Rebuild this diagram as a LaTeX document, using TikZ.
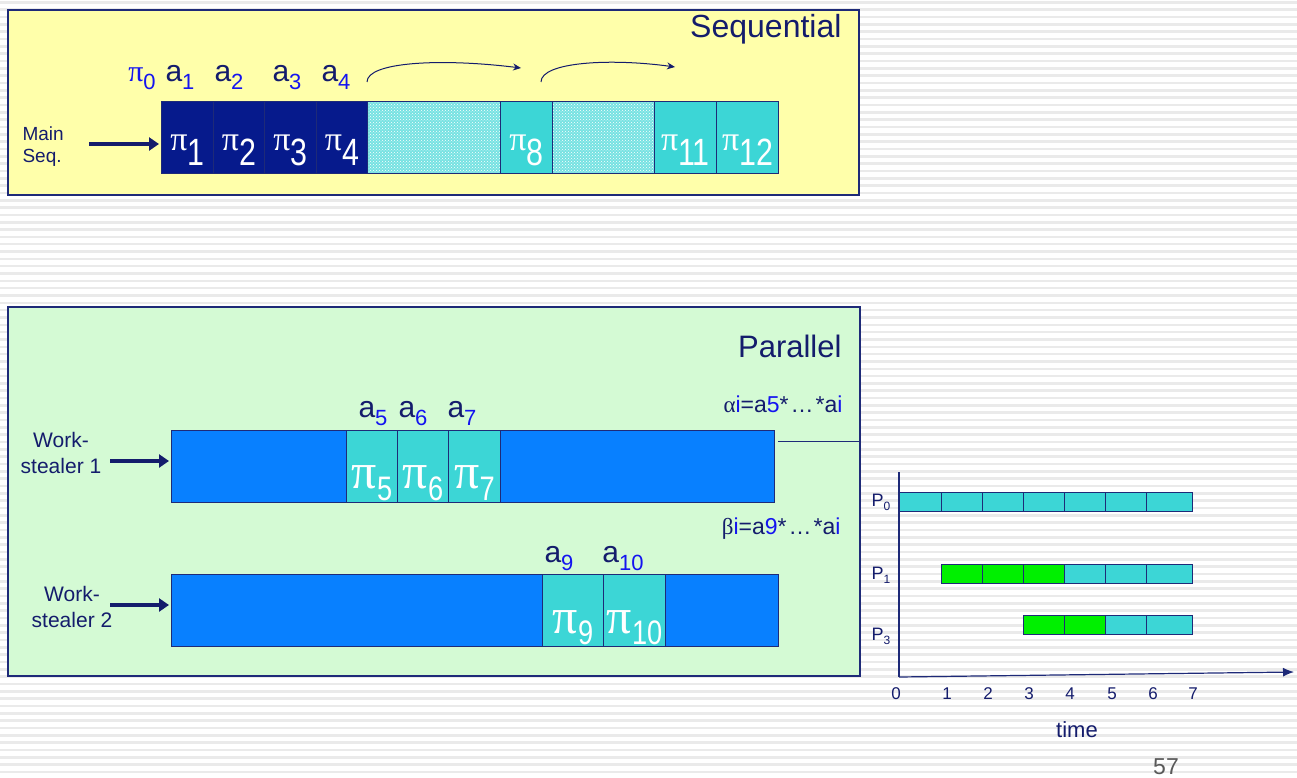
\documentclass[tikz,border=0pt]{standalone}
\usepackage{fontspec}
\setmainfont{Liberation Sans}
\newfontfamily\grk{Liberation Serif}
\usepackage{tikz}
\usetikzlibrary{arrows.meta,patterns}
\definecolor{SlideNavy}{HTML}{141C6C}
\definecolor{SlideLine}{HTML}{1E2A78}
\definecolor{SubBlue}{HTML}{1414F0}
\definecolor{SeqDark}{HTML}{061A8C}
\definecolor{CellCyan}{HTML}{3CD6D6}
\definecolor{BarBlue}{HTML}{0880FF}
\definecolor{PanelYellow}{HTML}{FFFFAA}
\definecolor{PanelGreen}{HTML}{D4FAD4}
\definecolor{GanttGreen}{HTML}{00F000}
\definecolor{Stripe}{HTML}{EAEAEA}
\definecolor{PageGray}{HTML}{595959}

\newcommand\fsz[1]{\fontsize{#1}{#1}\selectfont}
\newcommand\cellpi[4]{{\fsz{#1}\grk π}\raisebox{-#3pt}{\scalebox{0.8}[1]{\fsz{#2}#4}}}
\newcommand\alab[1]{{\fsz{30}a}\raisebox{-8pt}{\fsz{22}\color{SubBlue}#1}}

\begin{document}
\begin{tikzpicture}[x=1pt,y=-1pt,>=Latex,
  cell/.style={draw=SlideLine,line width=1pt,anchor=north west,inner sep=0pt,minimum height=72},
  hatch/.style={cell,preaction={fill=CellCyan!70},pattern=crosshatch dots,pattern color=white},
  pitext/.style={anchor=base,text=white,inner sep=0pt},
  toplab/.style={anchor=base,text=SlideNavy,inner sep=0pt},
  bigarrow/.style={SlideNavy,line width=4pt,-{Triangle[length=10pt,width=13pt]},shorten >=2pt},
  gcell/.style={draw=SlideLine,line width=1pt,anchor=north west,inner sep=0pt,minimum height=19},
  tick/.style={anchor=base,text=SlideNavy,font=\fsz{17}}]
  \useasboundingbox (0,0) rectangle (1297,778);
  % Striped slide background.
  \fill[white] (0,0) rectangle (1297,778);
  \foreach \y in {1,8.33,...,778}
    \fill[Stripe] (0,\y) rectangle (1297,\y+2.6);

  % Sequential panel.
  \draw[fill=PanelYellow,draw=SlideLine,line width=1.2pt] (8,10) rectangle (859,195);
  \node[anchor=base east,text=SlideNavy,font=\fsz{32}] (seqtitle) at (845,38) {Sequential};
  \node[anchor=west,align=left,text=SlideNavy,font=\fontsize{19}{22}\selectfont] (mainlbl) at (19,147) {Main\\Seq.};
  \foreach \n/\x/\w in {1/161/52,2/213/51,3/264/52,4/316/51}
    \node[cell,fill=SeqDark,minimum width=\w] (s\n) at (\x,101) {};
  \node[hatch,minimum width=133] (h1) at (367,101) {};
  \node[cell,fill=CellCyan,minimum width=52] (s8) at (500,101) {};
  \node[hatch,minimum width=102] (h2) at (552,101) {};
  \node[cell,fill=CellCyan,minimum width=62] (s11) at (654,101) {};
  \node[cell,fill=CellCyan,minimum width=62] (s12) at (716,101) {};
  \foreach \n in {1,2,3,4,8,11,12}
    \node[pitext] (t\n) at ([yshift=23pt]s\n.south) {\cellpi{34}{38}{15}{\n}};
  \node[toplab,text=SubBlue] (a0) at (142,82) {{\fsz{30}\grk π}\raisebox{-8pt}{\fsz{22}0}};
  \foreach \n/\x in {1/180,2/229,3/287,4/336}
    \node[toplab] (a\n) at (\x,82) {\alab{\n}};
  \coordinate (c1s) at (367,82);
  \coordinate (c1e) at (521,68);
  \coordinate (c2s) at (541,82);
  \coordinate (c2e) at (675,67);
  \draw[SlideNavy,line width=1pt,-{Stealth[length=8pt,width=7pt]}]
        (c1s) .. controls (367,62) and (440,58) .. (c1e);
  \draw[SlideNavy,line width=1pt,-{Stealth[length=8pt,width=7pt]}]
        (c2s) .. controls (541,62) and (610,58) .. (c2e);
  \coordinate (ms) at (89,144);
  \draw[bigarrow] (ms) -- (ms -| s1.west);

  % Parallel panel.
  \draw[fill=PanelGreen,draw=SlideLine,line width=1.2pt] (8,307) rectangle (860,676);
  \node[anchor=base east,text=SlideNavy,font=\fsz{31}] (partitle) at (845,357) {Parallel};
  \node[anchor=base east,text=SlideNavy,font=\fsz{23}] (alphalbl) at (846,412)
        {{\grk α}\textcolor{SubBlue}{i}=a\textcolor{SubBlue}{5}*\hspace{2pt}…\hspace{2pt}*a\textcolor{SubBlue}{i}};
  \node[anchor=base east,text=SlideNavy,font=\fsz{23}] (betalbl) at (844,534)
        {{\grk β}\textcolor{SubBlue}{i}=a\textcolor{SubBlue}{9}*\hspace{2pt}…\hspace{2pt}*a\textcolor{SubBlue}{i}};
  \coordinate (alphaL) at (778,441);
  \coordinate (alphaR) at (860,441);
  \draw[SlideLine,line width=1pt] (alphaL) -- (alphaR);
  % Work-stealer 1.
  \node[align=center,text=SlideNavy,font=\fontsize{21}{26}\selectfont] (ws1lbl) at (61,453) {Work-\\stealer 1};
  \node[cell,fill=BarBlue,minimum width=603] (bar1) at (171,430) {};
  \foreach \n/\x/\w in {5/346/51,6/397/51,7/448/52}
    \node[cell,fill=CellCyan,minimum width=\w] (p\n) at (\x,430) {};
  \foreach \n in {5,6,7}
    \node[pitext] (u\n) at ([yshift=15pt]p\n.south) {\cellpi{50}{34}{12}{\n}};
  \foreach \n/\x in {5/373,6/413,7/462}
    \node[toplab] (b\n) at (\x,417) {\alab{\n}};
  \coordinate (ws1) at (110,461);
  \draw[bigarrow] (ws1) -- (ws1 -| bar1.west);
  % Work-stealer 2.
  \node[align=center,text=SlideNavy,font=\fontsize{21}{26}\selectfont] (ws2lbl) at (72,607) {Work-\\stealer 2};
  \node[cell,fill=BarBlue,minimum width=607] (bar2) at (171,574) {};
  \node[cell,fill=CellCyan,minimum width=61] (p9) at (542,574) {};
  \node[cell,fill=CellCyan,minimum width=62] (p10) at (603,574) {};
  \foreach \n in {9,10}
    \node[pitext] (u\n) at ([yshift=14pt]p\n.south) {\cellpi{50}{34}{11}{\n}};
  \foreach \n/\x in {9/559,10/623}
    \node[toplab] (b\n) at (\x,562) {\alab{\n}};
  \coordinate (ws2) at (110,605);
  \draw[bigarrow] (ws2) -- (ws2 -| bar2.west);

  % Processor timeline.
  \coordinate (O) at (899,677);
  \coordinate (ytop) at (899,472);
  \coordinate (xend) at (1294,672);
  \draw[SlideLine,line width=1.2pt] (ytop) -- (O);
  \draw[SlideLine,line width=1.2pt,-{Latex[length=11pt,width=9pt]}] (O) -- (xend);
  \foreach \k/\xa/\xb in {0/899/941,1/941/982,2/982/1023,3/1023/1064,4/1064/1105,5/1105/1146,6/1146/1192}
    \node[gcell,fill=CellCyan,minimum width=\xb-\xa] (r0c\k) at (\xa,492) {};
  \foreach \k/\xa/\xb/\col in {1/941/982/GanttGreen,2/982/1023/GanttGreen,3/1023/1064/GanttGreen,
                               4/1064/1105/CellCyan,5/1105/1146/CellCyan,6/1146/1192/CellCyan}
    \node[gcell,fill=\col,minimum width=\xb-\xa] (r1c\k) at (\xa,564) {};
  \foreach \k/\xa/\xb/\col in {3/1023/1064/GanttGreen,4/1064/1105/GanttGreen,
                               5/1105/1146/CellCyan,6/1146/1192/CellCyan}
    \node[gcell,fill=\col,minimum width=\xb-\xa] (r3c\k) at (\xa,615) {};
  \foreach \p/\y in {0/502,1/575,3/636}
    \node[text=SlideNavy,inner sep=0pt] (lp\p) at (881,\y) {{\fsz{18}P}\raisebox{-4pt}{\fsz{12}\p}};
  \foreach \t/\x in {0/896,1/947,2/988,3/1029,4/1070,5/1112,6/1153,7/1193}
    \node[tick] (tk\t) at (\x,699) {\t};
  \node[anchor=base,text=SlideNavy,font=\fsz{22}] (timelbl) at (1077,737) {time};
  \node[anchor=base,text=PageGray,font=\fsz{23}] (pageno) at (1166,774) {57};
\end{tikzpicture}
\end{document}
